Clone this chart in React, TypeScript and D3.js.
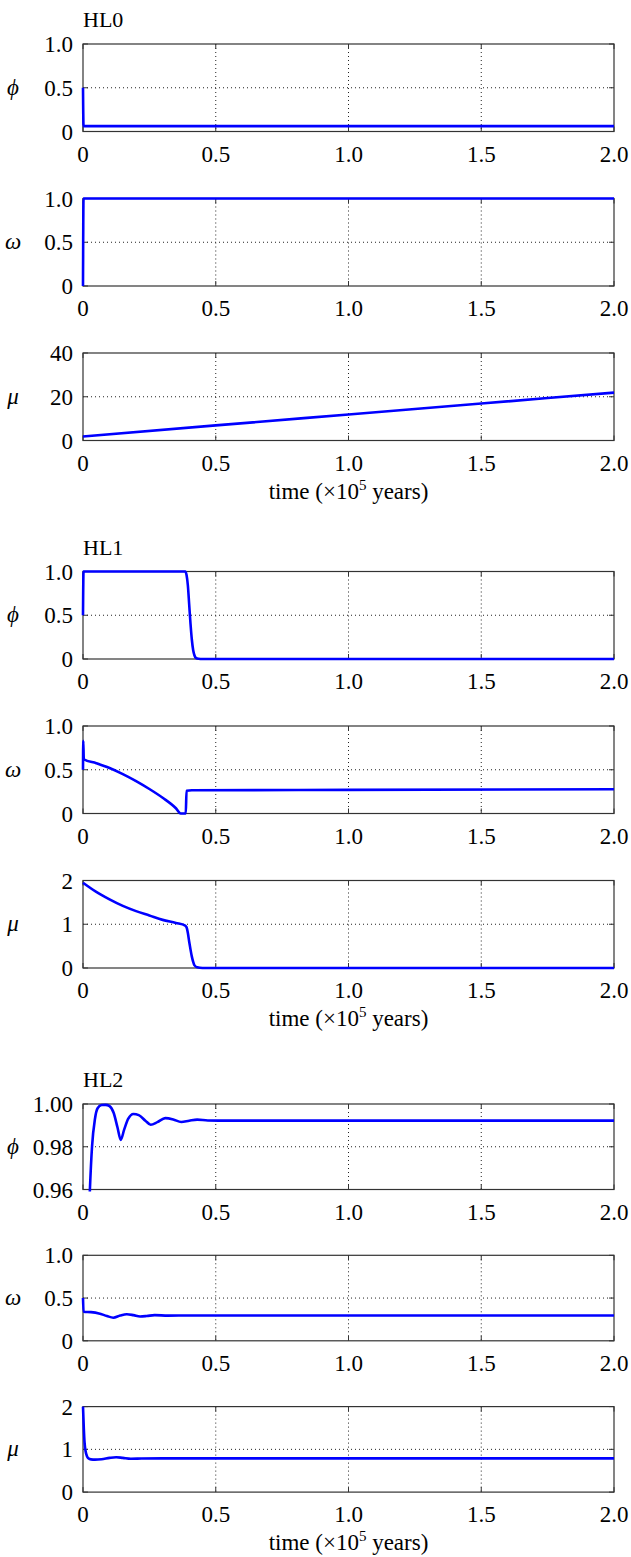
import React from 'react';
import * as d3 from 'd3';

// time axis in units of 1e5 years
const xTicks = [0, 0.5, 1.0, 1.5, 2.0];
const groupTitles = ['HL0', 'HL1', 'HL2'];
const xLabelText = 'time (\u00d710';

// HL0
const hl0PhiT = [0, 0.002, 2];
const hl0Phi = [0.5, 0.062, 0.062];
const hl0OmegaT = [0, 0.002, 2];
const hl0Omega = [0, 1, 1];
const hl0MuT = [0, 0.5, 1, 1.5, 2];
const hl0Mu = [1.8, 6.9, 11.9, 16.9, 21.9];

// HL1
const hl1PhiT = [0, 0.002, 0.385, 0.39, 0.395, 0.4, 0.405, 0.41, 0.415, 0.42, 0.425, 0.435, 0.45, 2];
const hl1Phi = [0.5, 1, 1, 0.96, 0.84, 0.62, 0.4, 0.22, 0.1, 0.04, 0.012, 0.002, 0, 0];
const hl1OmegaT = [0, 0.001, 0.003, 0.05, 0.1, 0.15, 0.2, 0.25, 0.3, 0.35, 0.368, 0.387, 0.39, 0.41, 1.0, 2];
const hl1Omega = [0.5, 0.83, 0.62, 0.575, 0.52, 0.45, 0.37, 0.28, 0.18, 0.06, 0, 0, 0.26, 0.265, 0.27, 0.278];
const hl1MuT = [0, 0.05, 0.1, 0.15, 0.2, 0.25, 0.3, 0.35, 0.385, 0.39, 0.395, 0.4, 0.405, 0.41, 0.415, 0.42, 0.43, 0.45, 2];
const hl1Mu = [1.95, 1.74, 1.57, 1.42, 1.3, 1.2, 1.1, 1.03, 0.97, 0.93, 0.8, 0.6, 0.42, 0.26, 0.14, 0.06, 0.015, 0, 0];

// HL2
const hl2PhiT = [0, 0.02, 0.026, 0.034, 0.045, 0.055, 0.07, 0.085, 0.1, 0.115, 0.13, 0.142, 0.155, 0.17, 0.19, 0.21, 0.235, 0.255, 0.28, 0.31, 0.34, 0.37, 0.4, 0.43, 0.47, 0.55, 2];
const hl2Phi = [0.9, 0.94, 0.96, 0.98, 0.993, 0.998, 0.9995, 0.9996, 0.999, 0.996, 0.989, 0.9832, 0.988, 0.993, 0.9953, 0.9948, 0.9922, 0.9903, 0.9915, 0.9934, 0.9928, 0.9916, 0.9922, 0.9927, 0.9923, 0.9922, 0.9922];
const hl2OmegaT = [0, 0.002, 0.03, 0.06, 0.09, 0.114, 0.14, 0.165, 0.19, 0.215, 0.24, 0.27, 0.32, 0.4, 2];
const hl2Omega = [0.5, 0.34, 0.335, 0.32, 0.29, 0.27, 0.295, 0.31, 0.3, 0.285, 0.29, 0.3, 0.295, 0.296, 0.296];
const hl2MuT = [0, 0.003, 0.006, 0.01, 0.015, 0.02, 0.03, 0.045, 0.07, 0.1, 0.125, 0.15, 0.18, 0.22, 0.3, 2];
const hl2Mu = [2.0, 1.5, 1.15, 0.95, 0.84, 0.79, 0.765, 0.76, 0.77, 0.8, 0.815, 0.8, 0.78, 0.785, 0.79, 0.79];

const unitTicks = [0, 0.5, 1.0];
const unitLabels = ['0', '0.5', '1.0'];
const mu40Ticks = [0, 20, 40];
const mu40Labels = ['0', '20', '40'];
const mu2Ticks = [0, 1, 2];
const mu2Labels = ['0', '1', '2'];
const phiHL2Ticks = [0.96, 0.98, 1.0];
const phiHL2Labels = ['0.96', '0.98', '1.00'];

const groups = [
  [
    { label: '\u03d5', t: hl0PhiT, v: hl0Phi, ticks: unitTicks, labels: unitLabels },
    { label: '\u03c9', t: hl0OmegaT, v: hl0Omega, ticks: unitTicks, labels: unitLabels },
    { label: '\u03bc', t: hl0MuT, v: hl0Mu, ticks: mu40Ticks, labels: mu40Labels },
  ],
  [
    { label: '\u03d5', t: hl1PhiT, v: hl1Phi, ticks: unitTicks, labels: unitLabels },
    { label: '\u03c9', t: hl1OmegaT, v: hl1Omega, ticks: unitTicks, labels: unitLabels },
    { label: '\u03bc', t: hl1MuT, v: hl1Mu, ticks: mu2Ticks, labels: mu2Labels },
  ],
  [
    { label: '\u03d5', t: hl2PhiT, v: hl2Phi, ticks: phiHL2Ticks, labels: phiHL2Labels },
    { label: '\u03c9', t: hl2OmegaT, v: hl2Omega, ticks: unitTicks, labels: unitLabels },
    { label: '\u03bc', t: hl2MuT, v: hl2Mu, ticks: mu2Ticks, labels: mu2Labels },
  ],
];

// layout
const W = 631;
const H = 1557;
const left = 83;
const right = 614;
const groupTop = [44, 571.5, 1104];
const groupStep = [154.5, 154.5, 151.3];
const panelH = [87.5, 87.5, 85.5];
const font = '"Liberation Serif", "Times New Roman", serif';
const fs = 23;

const x = d3.scaleLinear().domain([0, 2]).range([left, right]);

function Panel({ p, top, h, id, showXLabel }) {
  const y = d3.scaleLinear().domain([p.ticks[0], p.ticks[p.ticks.length - 1]]).range([top + h, top]);
  const pts = p.t.map((t, i) => [t, p.v[i]]);
  const line = d3.line().x(d => x(d[0])).y(d => y(d[1])).curve(d3.curveMonotoneX);
  const bottom = top + h;
  const tl = 5;
  return (
    <g>
      <defs>
        <clipPath id={id}>
          <rect x={left - 2} y={top - 2} width={right - left + 4} height={h + 4} />
        </clipPath>
      </defs>
      {/* grid */}
      {xTicks.slice(1, -1).map(t => (
        <line key={'gx' + t} x1={x(t)} x2={x(t)} y1={top} y2={bottom} stroke="#222" strokeWidth={1} strokeDasharray="1,3" />
      ))}
      {p.ticks.slice(1, -1).map(t => (
        <line key={'gy' + t} x1={left} x2={right} y1={y(t)} y2={y(t)} stroke="#222" strokeWidth={1} strokeDasharray="1,3" />
      ))}
      {/* inner ticks */}
      {xTicks.map(t => (
        <g key={'tx' + t}>
          <line x1={x(t)} x2={x(t)} y1={bottom} y2={bottom - tl} stroke="#333" />
          <line x1={x(t)} x2={x(t)} y1={top} y2={top + tl} stroke="#333" />
        </g>
      ))}
      {p.ticks.map(t => (
        <g key={'ty' + t}>
          <line x1={left} x2={left + tl} y1={y(t)} y2={y(t)} stroke="#333" />
          <line x1={right} x2={right - tl} y1={y(t)} y2={y(t)} stroke="#333" />
        </g>
      ))}
      <rect x={left} y={top} width={right - left} height={h} fill="none" stroke="#333" strokeWidth={1.2} />
      <path d={line(pts)} fill="none" stroke="#0000ff" strokeWidth={2.6} clipPath={`url(#${id})`} strokeLinejoin="round" />
      {/* tick labels */}
      {xTicks.map(t => (
        <text key={'lx' + t} x={x(t)} y={bottom + 30} textAnchor="middle" fontSize={fs} fontFamily={font}>
          {t === 0 ? '0' : t.toFixed(1)}
        </text>
      ))}
      {p.ticks.map((t, i) => (
        <text key={'ly' + t} x={left - 10} y={y(t)} dy="0.35em" textAnchor="end" fontSize={fs} fontFamily={font}>
          {p.labels[i]}
        </text>
      ))}
      <text x={13} y={top + h / 2} dy="0.3em" textAnchor="middle" fontSize={fs} fontStyle="italic" fontFamily={font}>
        {p.label}
      </text>
      {showXLabel && (
        <text x={(left + right) / 2} y={bottom + 58} textAnchor="middle" fontSize={fs} fontFamily={font}>
          {xLabelText}
          <tspan dy={-9} fontSize={15}>5</tspan>
          <tspan dy={9}> years)</tspan>
        </text>
      )}
    </g>
  );
}

export default function App() {
  return (
    <svg width={W} height={H} style={{ position: 'absolute', left: 0, top: 0, background: '#fff' }}>
      {groups.map((g, gi) => (
        <g key={gi}>
          <text x={left} y={groupTop[gi] - 17} fontSize={22} fontFamily={font}>
            {groupTitles[gi]}
          </text>
          {g.map((p, pi) => (
            <Panel
              key={pi}
              p={p}
              id={`clip-${gi}-${pi}`}
              top={groupTop[gi] + pi * groupStep[gi]}
              h={panelH[gi]}
              showXLabel={pi === 2}
            />
          ))}
        </g>
      ))}
    </svg>
  );
}
